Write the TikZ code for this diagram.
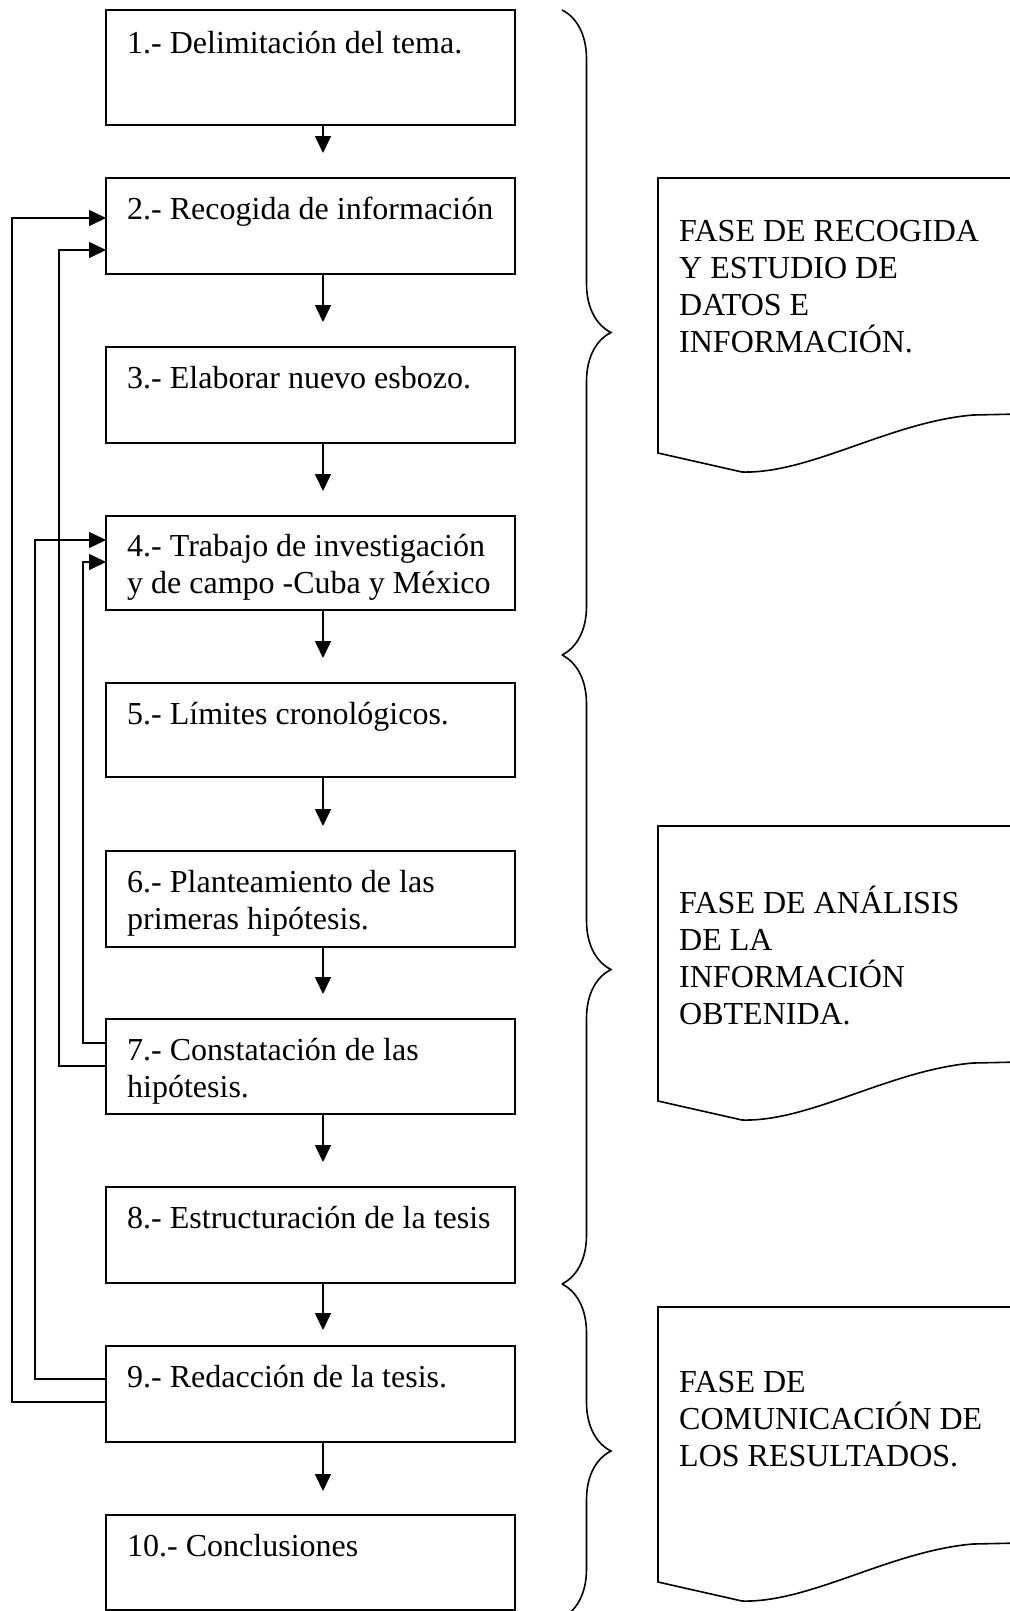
\documentclass[tikz,border=0pt]{standalone}
\usepackage{fontspec}
\setmainfont{Liberation Serif}
\usetikzlibrary{arrows.meta,decorations.pathreplacing}
\begin{document}
\begin{tikzpicture}[x=1pt,y=-1pt,
  box/.style={draw, line width=1.8pt, anchor=north west, minimum width=409pt,
    minimum height=96pt, inner sep=0pt, outer sep=0pt},
  txt/.style={anchor=base west, inner sep=0pt, font=\fontsize{32}{37}\selectfont},
  arr/.style={line width=1.6pt, -{Triangle[length=17pt,width=16pt]}},
  brc/.style={line width=1.6pt, decorate, decoration={brace, amplitude=49pt}},
  doc/.style={line width=1.6pt},
  docshape/.pic={\draw[doc] (362,0) -- (0,0) -- (0,275) -- (84,294)
      .. controls (152,296) and (232,244) .. (315,237) -- (362,236);}
]
\useasboundingbox (0,0) rectangle (1009,1611);
\fill[white] (0,0) rectangle (1009,1611);

% boxes
\node[box, minimum height=115pt] (b1) at (106,10) {};
\node[box] (b2) at (106,178) {};
\node[box] (b3) at (106,347) {};
\node[box, minimum height=94pt] (b4) at (106,516) {};
\node[box, minimum height=94pt] (b5) at (106,683) {};
\node[box] (b6) at (106,851) {};
\node[box, minimum height=95pt] (b7) at (106,1019) {};
\node[box] (b8) at (106,1187) {};
\node[box] (b9) at (106,1346) {};
\node[box, minimum height=95pt] (b10) at (106,1515) {};

% box texts
\node[txt] (t1) at (127,53) {1.- Delimitación del tema.};
\node[txt] (t2) at (127,219) {2.- Recogida de información};
\node[txt] (t3) at (127,388) {3.- Elaborar nuevo esbozo.};
\node[txt] (t4) at (127,556) {\vtop{\hbox{4.- Trabajo de investigación}\hbox{y de campo -Cuba y México}}};
\node[txt] (t5) at (127,724) {5.- Límites cronológicos.};
\node[txt] (t6) at (127,892) {\vtop{\hbox{6.- Planteamiento de las}\hbox{primeras hipótesis.}}};
\node[txt] (t7) at (127,1060) {\vtop{\hbox{7.- Constatación de las}\hbox{hipótesis.}}};
\node[txt] (t8) at (127,1228) {8.- Estructuración de la tesis};
\node[txt] (t9) at (127,1387) {9.- Redacción de la tesis.};
\node[txt] (t10) at (127,1556) {10.- Conclusiones};

% down arrows
\draw[arr] ([xshift=12.5pt]b1.south) -- ([xshift=12.5pt,yshift=25pt]b2.north);
\draw[arr] ([xshift=12.5pt]b2.south) -- ([xshift=12.5pt,yshift=25pt]b3.north);
\draw[arr] ([xshift=12.5pt]b3.south) -- ([xshift=12.5pt,yshift=25pt]b4.north);
\draw[arr] ([xshift=12.5pt]b4.south) -- ([xshift=12.5pt,yshift=25pt]b5.north);
\draw[arr] ([xshift=12.5pt]b5.south) -- ([xshift=12.5pt,yshift=25pt]b6.north);
\draw[arr] ([xshift=12.5pt]b6.south) -- ([xshift=12.5pt,yshift=25pt]b7.north);
\draw[arr] ([xshift=12.5pt]b7.south) -- ([xshift=12.5pt,yshift=25pt]b8.north);
\draw[arr] ([xshift=12.5pt]b8.south) -- ([xshift=12.5pt,yshift=16pt]b9.north);
\draw[arr] ([xshift=12.5pt]b9.south) -- ([xshift=12.5pt,yshift=24pt]b10.north);

% feedback connectors
\coordinate (in2a) at ([yshift=-40pt]b2.north west);
\coordinate (in2b) at ([yshift=-72pt]b2.north west);
\coordinate (in4a) at ([yshift=-24pt]b4.north west);
\coordinate (in4b) at ([yshift=-46pt]b4.north west);
\coordinate (out7a) at ([yshift=-24pt]b7.north west);
\coordinate (out7b) at ([yshift=-47pt]b7.north west);
\coordinate (out9a) at ([yshift=-33pt]b9.north west);
\coordinate (out9b) at ([yshift=-56pt]b9.north west);
\coordinate (xa) at (12,0);
\coordinate (xb) at (59,0);
\coordinate (xc) at (35,0);
\coordinate (xd) at (83,0);
\draw[arr] (out9b) -| (xa |- in2a) -- (in2a);
\draw[arr] (out7b) -| (xb |- in2b) -- (in2b);
\draw[arr] (out9a) -| (xc |- in4a) -- (in4a);
\draw[arr] (out7a) -| (xd |- in4b) -- (in4b);

% braces
\draw[brc] (562,10) -- (562,655);
\draw[brc] (562,655) -- (562,1284);
\draw[brc] (562,1284) -- (562,1618);

% phase shapes
\pic at (658,178) {docshape};
\pic at (658,826) {docshape};
\pic at (658,1307) {docshape};
\node[txt] (p1) at (679,241) {\vtop{\hbox{FASE DE RECOGIDA}\hbox{Y ESTUDIO DE}\hbox{DATOS E}\hbox{INFORMACIÓN.}}};
\node[txt] (p2) at (679,913) {\vtop{\hbox{FASE DE ANÁLISIS}\hbox{DE LA}\hbox{INFORMACIÓN}\hbox{OBTENIDA.}}};
\node[txt] (p3) at (679,1392) {\vtop{\hbox{FASE DE}\hbox{COMUNICACIÓN DE}\hbox{LOS RESULTADOS.}}};
\end{tikzpicture}
\end{document}
